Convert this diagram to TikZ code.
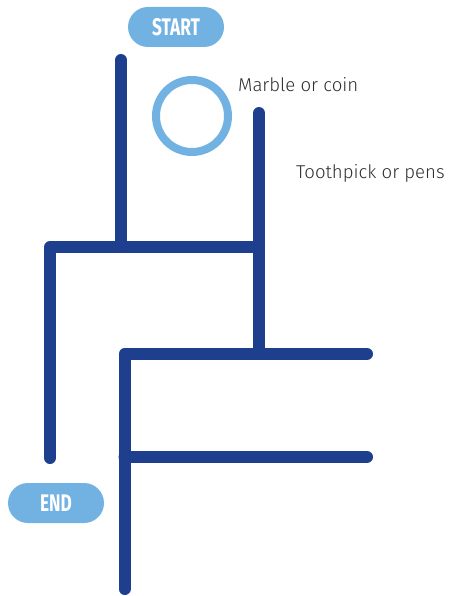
\documentclass[tikz,border=0pt]{standalone}
\usepackage{fontspec}
\setmainfont{Fira Sans Light}
\newfontfamily\pillfont[FakeStretch=0.72]{Fira Sans Bold}
\usetikzlibrary{positioning}
\definecolor{mazeblue}{HTML}{1D3F8E}
\definecolor{marbleblue}{HTML}{72B2E2}
\definecolor{notegray}{HTML}{2E2E2E}
\tikzset{
  stick/.style={
    line width=12pt,
    draw=mazeblue,
    line cap=round,
    line join=round
  },
  pill/.style={
    rounded corners=20pt,
    fill=marbleblue,
    minimum width=96pt,
    minimum height=40pt,
    text=white,
    font=\pillfont\fontsize{24}{24}\selectfont
  },
  note/.style={
    text=notegray,
    font=\fontsize{18.6}{20}\selectfont,
    inner sep=0pt,
    anchor=west
  }
}
\begin{document}
\begin{tikzpicture}[x=1pt,y=-1pt]
\useasboundingbox (0,0) rectangle (449,596);
% labels
\node[pill] (start) at (176,27) {START};
\node[pill] (end) at (56,503) {END};
\node[note] (marble) at (238,85) {Marble or coin};
\node[note] (pick) at (296,173) {Toothpick or pens};
% marble
\draw[marbleblue, line width=8pt] (192,116) circle (36);
% maze
\coordinate (a1) at (121,60);
\coordinate (a2) at (121,247);
\coordinate (b1) at (50,458);
\coordinate (b2) at (50,247);
\coordinate (b3) at (259,247);
\coordinate (c1) at (259,113);
\coordinate (c2) at (259,354);
\coordinate (d1) at (124.5,589);
\coordinate (d2) at (124.5,354);
\coordinate (d3) at (367,354);
\coordinate (e1) at (124.5,457);
\coordinate (e2) at (367,457);
\draw[stick] (a1) -- (a2);
\draw[stick] (b1) -- (b2) -- (b3);
\draw[stick] (c1) -- (c2);
\draw[stick] (d1) -- (d2) -- (d3);
\draw[stick] (e1) -- (e2);
\end{tikzpicture}
\end{document}
